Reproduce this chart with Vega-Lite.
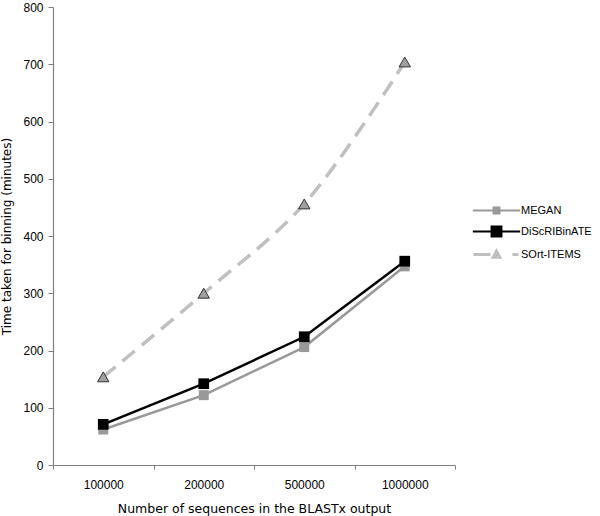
{
  "$schema": "https://vega.github.io/schema/vega-lite/v6.json",
  "autosize": "none",
  "width": 402,
  "height": 458,
  "padding": {"left": 53, "top": 7, "right": 145, "bottom": 51},
  "background": "white",
  "data": {
    "values": [
      {"n": "100000", "series": "MEGAN", "time": 62},
      {"n": "200000", "series": "MEGAN", "time": 122},
      {"n": "500000", "series": "MEGAN", "time": 206},
      {"n": "1000000", "series": "MEGAN", "time": 347},
      {"n": "100000", "series": "DiScRIBinATE", "time": 71},
      {"n": "200000", "series": "DiScRIBinATE", "time": 142},
      {"n": "500000", "series": "DiScRIBinATE", "time": 224},
      {"n": "1000000", "series": "DiScRIBinATE", "time": 356},
      {"n": "100000", "series": "SOrt-ITEMS", "time": 154},
      {"n": "200000", "series": "SOrt-ITEMS", "time": 300},
      {"n": "500000", "series": "SOrt-ITEMS", "time": 456},
      {"n": "1000000", "series": "SOrt-ITEMS", "time": 704}
    ]
  },
  "encoding": {
    "x": {
      "field": "n",
      "type": "ordinal",
      "sort": ["100000", "200000", "500000", "1000000"],
      "scale": {"paddingInner": 0, "paddingOuter": 0},
      "axis": {
        "title": "Number of sequences in the BLASTx output",
        "titleFontSize": 12.5,
        "labelAngle": 0,
        "tickBand": "extent",
        "tickSize": 4,
        "labelPadding": 10,
        "titlePadding": 12
      }
    },
    "y": {
      "field": "time",
      "type": "quantitative",
      "scale": {"domain": [0, 800], "nice": false},
      "axis": {
        "title": "Time taken for binning (minutes)",
        "values": [0, 100, 200, 300, 400, 500, 600, 700, 800],
        "grid": false,
        "tickSize": 5,
        "labelPadding": 5,
        "titlePadding": 9
      }
    }
  },
  "layer": [
    {
      "transform": [{"filter": "datum.series == 'SOrt-ITEMS'"}],
      "mark": {"type": "line", "interpolate": "catmull-rom", "strokeWidth": 3.5, "strokeDash": [16, 9]},
      "encoding": {
        "color": {
          "field": "series",
          "type": "nominal",
          "scale": {"domain": ["MEGAN", "DiScRIBinATE", "SOrt-ITEMS"], "range": ["#999999", "#000000", "#c0c0c0"]},
          "legend": {
            "orient": "none",
            "legendX": 438,
            "legendY": 198,
            "title": null,
            "symbolSize": 484,
            "labelOffset": 19,
            "rowPadding": 4,
            "labelFont": "Liberation Sans",
            "labelFontSize": 11,
            "labelColor": "#000000",
            "encode": {
              "symbols": {
                "update": {
                  "shape": {"signal": "datum.value == 'MEGAN' ? 'M-2.15,0H2.15M-0.27,-0.27H0.27V0.27H-0.27Z' : datum.value == 'DiScRIBinATE' ? 'M-2.15,0H2.15M-0.45,-0.45H0.45V0.45H-0.45Z' : 'M-2.1,0H-0.55M-0.3,0.24L0,-0.3L0.3,0.24ZM1.45,0H2.0'"},
                  "fill": {"signal": "datum.value == 'MEGAN' ? '#999999' : datum.value == 'DiScRIBinATE' ? '#000000' : '#a0a0a0'"},
                  "stroke": {"signal": "datum.value == 'MEGAN' ? '#999999' : datum.value == 'DiScRIBinATE' ? '#000000' : '#b8b8b8'"},
                  "strokeWidth": {"signal": "datum.value == 'SOrt-ITEMS' ? 3 : 2"},
                  "strokeDash": {"value": []},
                  "opacity": {"value": 1},
                  "fillOpacity": {"value": 1}
                }
              }
            }
          }
        }
      }
    },
    {
      "transform": [{"filter": "datum.series != 'SOrt-ITEMS'"}],
      "mark": {"type": "line", "strokeWidth": 2.5},
      "encoding": {
        "color": {"field": "series", "type": "nominal"},
        "order": {"field": "time"}
      }
    },
    {
      "transform": [{"filter": "datum.series == 'MEGAN'"}],
      "mark": {"type": "point", "shape": "square", "filled": true, "size": 100, "color": "#999999", "opacity": 1}
    },
    {
      "transform": [{"filter": "datum.series == 'DiScRIBinATE'"}],
      "mark": {"type": "point", "shape": "square", "filled": true, "size": 115, "color": "#000000", "opacity": 1}
    },
    {
      "transform": [{"filter": "datum.series == 'SOrt-ITEMS'"}],
      "mark": {"type": "point", "shape": "triangle-up", "filled": true, "size": 130, "fill": "#a0a0a0", "stroke": "#333333", "strokeWidth": 1, "opacity": 1}
    }
  ],
  "config": {
    "view": {"stroke": null},
    "axis": {
      "domainColor": "#808080",
      "tickColor": "#808080",
      "domainWidth": 1.2,
      "labelFont": "Liberation Sans",
      "labelFontSize": 12,
      "labelColor": "#000000",
      "titleFont": "DejaVu Sans",
      "titleFontSize": 12,
      "titleFontWeight": "normal",
      "titleColor": "#000000"
    }
  }
}
